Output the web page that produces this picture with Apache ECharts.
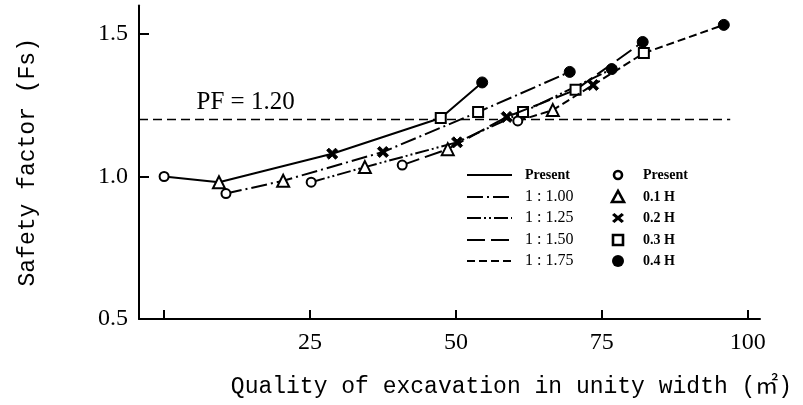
<!DOCTYPE html>
<html><head><meta charset="utf-8">
<script src="https://cdn.jsdelivr.net/npm/echarts@6/dist/echarts.min.js"></script>
<style>html,body{margin:0;padding:0;background:#fff}#c{width:803px;height:405px}</style>
</head><body><div id="c"></div>
<script>
// ---- data ----
const slopeNames = ['Present', '1 : 1.00', '1 : 1.25', '1 : 1.50', '1 : 1.75'];
const stageNames = ['Present', '0.1 H', '0.2 H', '0.3 H', '0.4 H'];
const xPresent = [0, 9.4, 28.8, 47.4, 54.5];
const yPresent = [1.00, 0.98, 1.08, 1.205, 1.33];
const x100 = [10.6, 20.4, 37.5, 53.8, 69.5];
const y100 = [0.94, 0.985, 1.086, 1.226, 1.367];
const x125 = [25.2, 34.4, 50.2, 61.5, 76.7];
const y125 = [0.98, 1.033, 1.12, 1.226, 1.377];
const x150 = [40.8, 48.6, 58.7, 70.5, 82.0];
const y150 = [1.04, 1.096, 1.209, 1.304, 1.472];
const x175 = [60.6, 66.6, 73.5, 82.2, 95.9];
const y175 = [1.195, 1.233, 1.321, 1.433, 1.532];
const pfValue = 1.20;
const pfX = [-4.3, 97];
const xTicks = [0, 25, 50, 75, 100];
const xTickLabels = [25, 50, 75, 100];
const yTicks = [0.5, 1.0, 1.5];

// ---- styles ----
const seriesX = [xPresent, x100, x125, x150, x175];
const seriesY = [yPresent, y100, y125, y150, y175];
const dashes = ['solid', [16, 4, 2, 4], [14, 3, 2, 3, 2, 3], [18, 6], [8, 4]];
const X_PATH = 'path://M0,2L2,0L5,3L8,0L10,2L7,5L10,8L8,10L5,7L2,10L0,8L3,5Z';
const stageSymbols = ['emptyCircle', 'emptyTriangle', X_PATH, 'emptyRect', 'circle'];
const stageSizes = [9, 12, 11, 10, 11];
const serif = '"Liberation Serif","DejaVu Serif",serif';
const mono = '"Liberation Mono","DejaVu Sans Mono","Noto Sans CJK JP",monospace';

const series = slopeNames.map((name, i) => ({
  name: name,
  type: 'line',
  symbol: 'circle',
  z: 3 + i,
  lineStyle: { color: '#000', width: 2, type: dashes[i] },
  itemStyle: { color: '#000' },
  data: seriesX[i].map((x, j) => ({
    value: [x, seriesY[i][j]],
    symbol: stageSymbols[j],
    symbolSize: stageSizes[j],
    itemStyle: { color: '#000', borderColor: '#000' }
  }))
}));

series.push({
  name: 'PF',
  type: 'line',
  symbol: 'circle',
  symbolSize: 1,
  showSymbol: true,
  z: 2,
  itemStyle: { color: 'rgba(0,0,0,0)' },
  lineStyle: { color: '#000', width: 1.6, type: [9, 5] },
  data: pfX.map((x, j) => ({
    value: [x, pfValue],
    label: j === 0 ? {
      show: true, position: 'right', offset: [52, -17],
      formatter: 'PF = ' + pfValue.toFixed(2),
      fontFamily: serif, fontSize: 25, color: '#000'
    } : { show: false }
  }))
});

// ---- legend drawn as graphic ----
const rowY = [175, 197, 218, 240, 261];
const g = [];
rowY.forEach((y, i) => {
  g.push({ type: 'line', shape: { x1: 467, y1: y, x2: 512, y2: y },
    style: { stroke: '#000', lineWidth: 2, lineDash: dashes[i] === 'solid' ? null : dashes[i] } });
  g.push({ type: 'text', x: 525, y: y,
    style: { text: slopeNames[i], fill: '#000',
      font: (i === 0 ? 'bold 14px ' : '16px ') + serif,
      verticalAlign: 'middle', textVerticalAlign: 'middle' } });
  g.push({ type: 'text', x: 643, y: y,
    style: { text: stageNames[i], fill: '#000', font: 'bold 14px ' + serif,
      verticalAlign: 'middle', textVerticalAlign: 'middle' } });
});
const mx = 618;
g.push({ type: 'circle', shape: { cx: mx, cy: rowY[0], r: 4 }, style: { fill: '#fff', stroke: '#000', lineWidth: 2.6 } });
g.push({ type: 'polygon', shape: { points: [[mx - 6, rowY[1] + 5], [mx + 6, rowY[1] + 5], [mx, rowY[1] - 6]] }, style: { fill: '#fff', stroke: '#000', lineWidth: 2.6 } });
g.push({ type: 'polygon', shape: { points: [[0,2],[2,0],[5,3],[8,0],[10,2],[7,5],[10,8],[8,10],[5,7],[2,10],[0,8],[3,5]].map(p => [mx - 6 + p[0] * 1.2, rowY[2] - 5 + p[1]]) }, style: { fill: '#000' } });
g.push({ type: 'rect', shape: { x: mx - 5, y: rowY[3] - 5, width: 10, height: 10 }, style: { fill: '#fff', stroke: '#000', lineWidth: 2.6 } });
g.push({ type: 'circle', shape: { cx: mx, cy: rowY[4], r: 6 }, style: { fill: '#000' } });

const chart = echarts.init(document.getElementById('c'), null, { renderer: 'canvas' });
chart.setOption({
  animation: false,
  backgroundColor: '#fff',
  grid: { left: 139, right: 43, top: 5.5, bottom: 86, containLabel: false },
  xAxis: {
    type: 'value', min: -4.3, max: 102.1,
    name: 'Quality of excavation in unity width (㎡)',
    nameLocation: 'middle', nameGap: 56,
    nameTextStyle: { fontFamily: mono, fontSize: 23, color: '#000', padding: [0, 0, 0, 124] },
    axisLine: { onZero: false, lineStyle: { color: '#000', width: 2 } },
    axisTick: { show: true, inside: true, length: 9, lineStyle: { color: '#000', width: 2 }, customValues: xTicks },
    axisLabel: { fontFamily: serif, fontSize: 24, color: '#000', margin: 12, customValues: xTickLabels },
    splitLine: { show: false }
  },
  yAxis: {
    type: 'value', min: 0.5, max: 1.6,
    name: 'Safety factor (Fs)',
    nameLocation: 'middle', nameGap: 100, nameRotate: 90,
    nameTextStyle: { fontFamily: mono, fontSize: 23, color: '#000' },
    axisLine: { onZero: false, lineStyle: { color: '#000', width: 2 } },
    axisTick: { show: true, inside: true, length: 10, lineStyle: { color: '#000', width: 2 }, customValues: yTicks },
    axisLabel: { fontFamily: serif, fontSize: 24, color: '#000', margin: 11, customValues: yTicks,
      formatter: v => Number(v).toFixed(1) },
    splitLine: { show: false }
  },
  graphic: g,
  series: series
});
</script>
</body></html>
